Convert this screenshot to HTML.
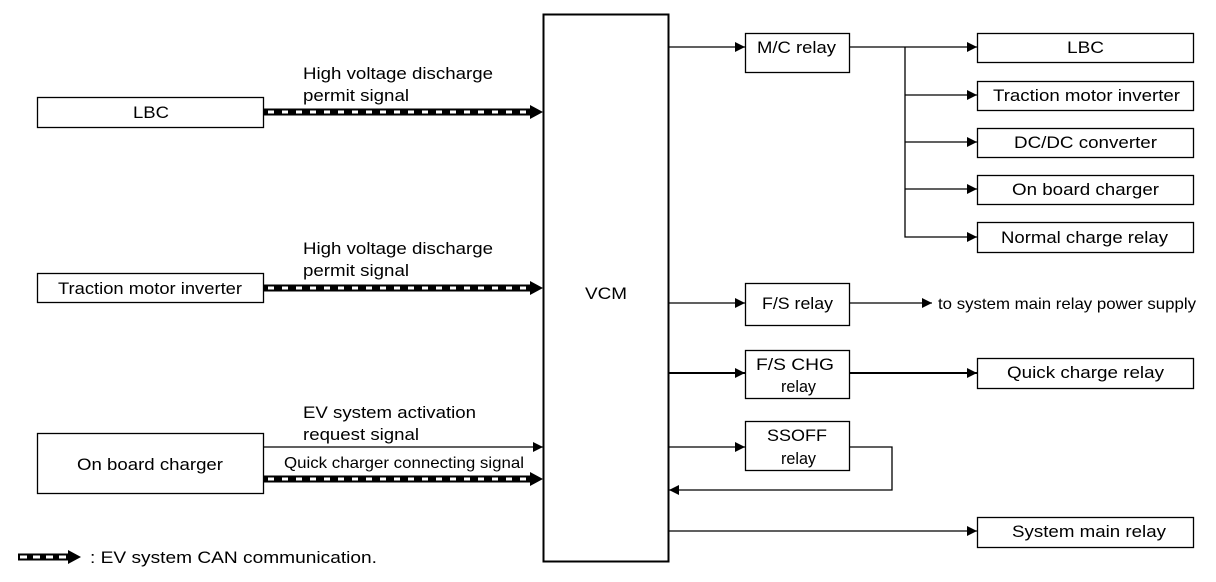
<!DOCTYPE html>
<html><head><meta charset="utf-8"><style>
html,body{margin:0;padding:0;background:#fff;}
svg{display:block;}
text{font-family:"Liberation Sans",sans-serif;fill:#000;}
</style></head><body>
<svg width="1216" height="582" viewBox="0 0 1216 582" xmlns="http://www.w3.org/2000/svg">
<defs>
<marker id="ar" viewBox="0 0 10 10" refX="10" refY="5" markerWidth="10" markerHeight="10" markerUnits="userSpaceOnUse" orient="auto"><path d="M0,0 L10,5 L0,10 z" fill="#000"/></marker>
</defs>
<g fill="none" stroke="#000" stroke-width="1.3">
<rect x="37.5" y="97.5" width="226" height="30"/>
<rect x="37.5" y="273.5" width="226" height="29"/>
<rect x="37.5" y="433.5" width="226" height="60"/>
<rect x="543.5" y="14.5" width="125" height="547" stroke-width="2"/>
<rect x="745.5" y="33.5" width="104" height="39"/>
<rect x="745.5" y="283.5" width="104" height="42"/>
<rect x="745.5" y="350.5" width="104" height="48"/>
<rect x="745.5" y="421.5" width="104" height="49"/>
<rect x="977.5" y="33.5" width="216" height="29"/>
<rect x="977.5" y="81.5" width="216" height="29"/>
<rect x="977.5" y="128.5" width="216" height="29"/>
<rect x="977.5" y="175.5" width="216" height="29"/>
<rect x="977.5" y="222.5" width="216" height="30"/>
<rect x="977.5" y="358.5" width="216" height="30"/>
<rect x="977.5" y="517.5" width="216" height="30"/>
<line x1="669" y1="47" x2="745" y2="47" marker-end="url(#ar)"/>
<line x1="850" y1="47" x2="977" y2="47" marker-end="url(#ar)"/>
<polyline points="905,47 905,237 977,237" marker-end="url(#ar)"/>
<line x1="905" y1="95" x2="977" y2="95" marker-end="url(#ar)"/>
<line x1="905" y1="142" x2="977" y2="142" marker-end="url(#ar)"/>
<line x1="905" y1="189" x2="977" y2="189" marker-end="url(#ar)"/>
<line x1="669" y1="303" x2="745" y2="303" marker-end="url(#ar)"/>
<line x1="850" y1="303" x2="932" y2="303" marker-end="url(#ar)"/>
<line x1="669" y1="373" x2="745" y2="373" stroke-width="2" marker-end="url(#ar)"/>
<line x1="850" y1="373" x2="977" y2="373" stroke-width="2" marker-end="url(#ar)"/>
<line x1="669" y1="447" x2="745" y2="447" marker-end="url(#ar)"/>
<polyline points="850,447 892,447 892,490 669,490" marker-end="url(#ar)"/>
<line x1="669" y1="531" x2="977" y2="531" marker-end="url(#ar)"/>
<line x1="264" y1="447" x2="543" y2="447" marker-end="url(#ar)"/>
</g>
<g>
<line x1="264" y1="112" x2="532" y2="112" stroke="#000" stroke-width="7"/>
<line x1="268" y1="112" x2="532" y2="112" stroke="#fff" stroke-width="3" stroke-dasharray="6 8"/>
<path d="M530,105 L543,112 L530,119 z"/>
<line x1="264" y1="288" x2="532" y2="288" stroke="#000" stroke-width="7"/>
<line x1="268" y1="288" x2="532" y2="288" stroke="#fff" stroke-width="3" stroke-dasharray="6 8"/>
<path d="M530,281 L543,288 L530,295 z"/>
<line x1="264" y1="479" x2="532" y2="479" stroke="#000" stroke-width="7"/>
<line x1="268" y1="479" x2="532" y2="479" stroke="#fff" stroke-width="3" stroke-dasharray="6 8"/>
<path d="M530,472 L543,479 L530,486 z"/>
<line x1="18" y1="557" x2="70" y2="557" stroke="#000" stroke-width="7"/>
<line x1="20" y1="557" x2="70" y2="557" stroke="#fff" stroke-width="3" stroke-dasharray="7 6"/>
<path d="M68,550 L81,557 L68,564 z"/>
</g>
<g font-size="17">
<text lengthAdjust="spacingAndGlyphs" x="133" y="118" textLength="36">LBC</text>
<text lengthAdjust="spacingAndGlyphs" x="58" y="294" textLength="184">Traction motor inverter</text>
<text lengthAdjust="spacingAndGlyphs" x="77" y="470" textLength="146">On board charger</text>
<text lengthAdjust="spacingAndGlyphs" x="303" y="79" textLength="190">High voltage discharge</text>
<text lengthAdjust="spacingAndGlyphs" x="303" y="101" textLength="106">permit signal</text>
<text lengthAdjust="spacingAndGlyphs" x="303" y="254" textLength="190">High voltage discharge</text>
<text lengthAdjust="spacingAndGlyphs" x="303" y="276" textLength="106">permit signal</text>
<text lengthAdjust="spacingAndGlyphs" x="303" y="418" textLength="173">EV system activation</text>
<text lengthAdjust="spacingAndGlyphs" x="303" y="440" textLength="116">request signal</text>
<text lengthAdjust="spacingAndGlyphs" x="284" y="468" textLength="240" font-size="16">Quick charger connecting signal</text>
<text lengthAdjust="spacingAndGlyphs" x="585" y="299" textLength="42">VCM</text>
<text lengthAdjust="spacingAndGlyphs" x="757" y="53" textLength="79">M/C relay</text>
<text lengthAdjust="spacingAndGlyphs" x="762" y="309" textLength="71">F/S relay</text>
<text lengthAdjust="spacingAndGlyphs" x="756" y="370" textLength="78">F/S CHG</text>
<text lengthAdjust="spacingAndGlyphs" x="781" y="392" textLength="35">relay</text>
<text lengthAdjust="spacingAndGlyphs" x="767" y="441" textLength="60">SSOFF</text>
<text lengthAdjust="spacingAndGlyphs" x="781" y="464" textLength="35">relay</text>
<text lengthAdjust="spacingAndGlyphs" x="1067" y="53" textLength="37">LBC</text>
<text lengthAdjust="spacingAndGlyphs" x="993" y="101" textLength="187">Traction motor inverter</text>
<text lengthAdjust="spacingAndGlyphs" x="1014" y="148" textLength="143">DC/DC converter</text>
<text lengthAdjust="spacingAndGlyphs" x="1012" y="195" textLength="147">On board charger</text>
<text lengthAdjust="spacingAndGlyphs" x="1001" y="243" textLength="167">Normal charge relay</text>
<text lengthAdjust="spacingAndGlyphs" x="1007" y="378" textLength="157">Quick charge relay</text>
<text lengthAdjust="spacingAndGlyphs" x="1012" y="537" textLength="154">System main relay</text>
<text lengthAdjust="spacingAndGlyphs" x="938" y="309" textLength="258" font-size="16">to system main relay power supply</text>
<text lengthAdjust="spacingAndGlyphs" x="90" y="563" textLength="287">: EV system CAN communication.</text>
</g>
</svg>
</body></html>
